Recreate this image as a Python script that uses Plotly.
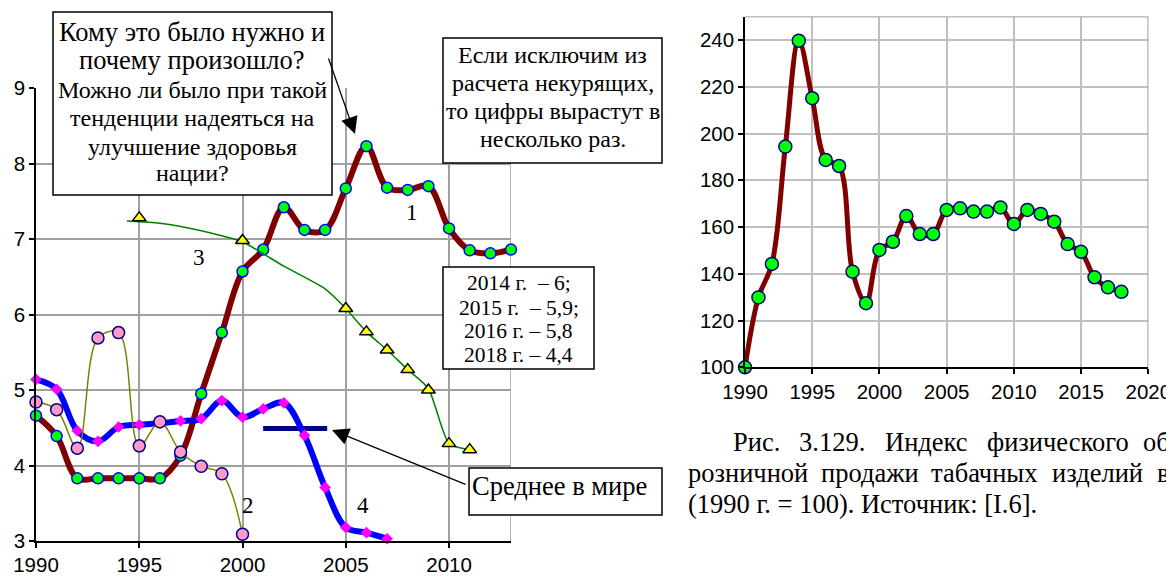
import plotly.graph_objects as go

# The page body has an 8px margin, so the figure is placed at (8, 8) in the window.
OFF = 8
W, H = 1174 - OFF, 577 - OFF

# ---------------- data: left chart ----------------
years_s1 = list(range(1990, 2014))
s1 = [4.66, 4.39, 3.83, 3.83, 3.83, 3.83, 3.83, 4.13, 4.95, 5.76, 6.57, 6.86,
      7.42, 7.12, 7.12, 7.67, 8.23, 7.68, 7.65, 7.70, 7.14, 6.85, 6.81, 6.86]
years_s2 = list(range(1990, 2001))
s2 = [4.84, 4.74, 4.23, 5.69, 5.76, 4.26, 4.58, 4.18, 3.99, 3.89, 3.09]
years_s3 = [1995, 2000, 2005, 2006, 2007, 2008, 2009, 2010, 2011]
s3 = [7.28, 6.98, 6.08, 5.77, 5.53, 5.27, 5.00, 4.29, 4.21]
years_s3_line = [1994.4, 1996, 1998, 2000, 2002, 2004, 2005, 2006, 2007, 2008, 2009, 2010, 2011]
s3_line = [7.24, 7.21, 7.11, 6.96, 6.64, 6.34, 6.08, 5.77, 5.53, 5.27, 5.02, 4.29, 4.21]
years_s4 = list(range(1990, 2008))
s4 = [5.14, 5.01, 4.46, 4.32, 4.51, 4.54, 4.56, 4.59, 4.62, 4.86, 4.64, 4.75,
      4.83, 4.40, 3.71, 3.18, 3.11, 3.03]
world_avg_years = [2001, 2004.1]
world_avg = [4.49, 4.49]
left_xticks = [1990, 1995, 2000, 2005, 2010]
left_yticks = [3, 4, 5, 6, 7, 8, 9]

# ---------------- data: right chart ----------------
years_r = list(range(1990, 2019))
idx_r = [100, 129.9, 144.2, 194.4, 239.7, 215.1, 188.7, 186.1, 140.9, 127.4,
         150.2, 153.7, 164.7, 157.0, 157.0, 167.3, 168.0, 166.6, 166.6, 168.4,
         161.3, 167.3, 165.6, 162.3, 152.7, 149.4, 138.5, 134.2, 132.3]
right_xticks = [1990, 1995, 2000, 2005, 2010, 2015, 2020]
right_yticks = [100, 120, 140, 160, 180, 200, 220, 240]

# ---------------- text ----------------
boxA_lines = ["Кому это было нужно и", "почему произошло?", "Можно ли было при такой",
              "тенденции надеяться на", "улучшение здоровья", "нации?"]
boxB_lines = ["Если исключим из", "расчета некурящих,", "то цифры вырастут в", "несколько раз."]
boxC_lines = ["2014 г.\u00a0\u00a0– 6;", "2015 г.\u00a0\u00a0– 5,9;", "2016 г. – 5,8", "2018 г. – 4,4"]
boxD_text = "Среднее в мире"
series_labels = ["1", "2", "3", "4"]
caption_lines = [
    ["Рис.", "3.129.", "Индекс", "физического", "об"],
    ["розничной", "продажи", "табачных", "изделий", "в"],
    ["(1990 г. = 100). Источник: [I.6]."],
]

SERIF = "Liberation Serif"
SANS = "Liberation Sans"


def px(x):
    return (x - OFF) / W


def py(y):
    return 1 - (y - OFF) / H


fig = go.Figure()

# left chart traces
fig.add_trace(go.Scatter(x=years_s1, y=s1, mode="lines+markers", xaxis="x", yaxis="y",
                         line=dict(color="#800000", width=6, shape="spline", smoothing=1),
                         marker=dict(symbol="circle", size=11, color="#00FF00",
                                     line=dict(color="#0000FF", width=1.5)),
                         cliponaxis=False))
fig.add_trace(go.Scatter(x=world_avg_years, y=world_avg, mode="lines", xaxis="x", yaxis="y",
                         line=dict(color="#000080", width=5), cliponaxis=False))
fig.add_trace(go.Scatter(x=years_s4, y=s4, mode="lines+markers", xaxis="x", yaxis="y",
                         line=dict(color="#0000FF", width=6, shape="spline", smoothing=1),
                         marker=dict(symbol="diamond", size=9, color="#FF00FF",
                                     line=dict(color="#FF00FF", width=0)),
                         cliponaxis=False))
fig.add_trace(go.Scatter(x=years_s2, y=s2, mode="lines+markers", xaxis="x", yaxis="y",
                         line=dict(color="#808000", width=1.5, shape="spline", smoothing=1),
                         marker=dict(symbol="circle", size=12, color="#FF99CC",
                                     line=dict(color="#000080", width=1.5)),
                         cliponaxis=False))
fig.add_trace(go.Scatter(x=years_s3_line, y=s3_line, mode="lines", xaxis="x", yaxis="y",
                         line=dict(color="#008000", width=1.5, shape="spline", smoothing=0.6),
                         cliponaxis=False))
fig.add_trace(go.Scatter(x=years_s3, y=s3, mode="markers", xaxis="x", yaxis="y",
                         marker=dict(symbol="triangle-up", size=12, color="#FFFF00",
                                     line=dict(color="#000000", width=1.5)),
                         cliponaxis=False))

# right chart trace
fig.add_trace(go.Scatter(x=years_r, y=idx_r, mode="lines+markers", xaxis="x2", yaxis="y2",
                         line=dict(color="#800000", width=5, shape="spline", smoothing=1),
                         marker=dict(symbol="circle", size=13, color="#00FF00",
                                     line=dict(color="#000080", width=1.5)),
                         cliponaxis=False))

shapes = []
shapes.append(dict(type="line", xref="x", yref="y", x0=2013, x1=2013, y0=3, y1=9,
                   line=dict(color="#A0A0A0", width=1.5), layer="between"))
shapes.append(dict(type="line", xref="x2", yref="y2", x0=1990, x1=2020, y0=250, y1=250,
                   line=dict(color="#808080", width=1.5), layer="between"))
shapes.append(dict(type="line", xref="x2", yref="y2", x0=2020, x1=2020, y0=100, y1=250,
                   line=dict(color="#808080", width=1.5), layer="between"))


def box(x0, y0, x1, y1):
    shapes.append(dict(type="rect", xref="paper", yref="paper",
                       x0=px(x0), x1=px(x1), y0=py(y1), y1=py(y0),
                       fillcolor="white", line=dict(color="black", width=1.5), layer="above"))


box(53, 12, 332, 195)
box(443, 38, 662, 163)
box(443, 267, 594, 369)
box(469, 468, 662, 515)

ann = []


def text(x, y, s, size, anchor="center"):
    ann.append(dict(x=px(x), y=py(y), xref="paper", yref="paper", text=s, showarrow=False,
                    xanchor=anchor, yanchor="middle",
                    font=dict(family=SERIF, size=size, color="black")))


for s, y, sz in zip(boxA_lines, [32, 60, 90, 118, 147, 173], [26.5, 26.5, 24, 24, 24, 24]):
    text(192, y, s, sz)
for s, y in zip(boxB_lines, [55, 83, 111, 139]):
    text(552.5, y, s, 24)
for s, y in zip(boxC_lines, [283, 308, 331, 355]):
    text(518.5, y, s, 21.5)
text(559, 486, boxD_text, 26.5)
for s, (x, y) in zip(series_labels, [(412, 213), (248, 505), (199, 257), (363, 505)]):
    text(x, y, s, 23)

cap_x = [[731, 797, 883, 985, 1141], [686, 819, 929, 1050, 1155], [686]]
for words, xs, y in zip(caption_lines, cap_x, [442, 473, 504]):
    for w_, x in zip(words, xs):
        text(x, y, w_, 26.5, anchor="left")

# arrows
for (hx, hy), (tx, ty) in [((355, 134), (328, 57)), ((332, 430), (467, 485))]:
    ann.append(dict(x=px(hx), y=py(hy), xref="paper", yref="paper", text="",
                    showarrow=True, ax=tx - hx, ay=ty - hy, axref="pixel", ayref="pixel",
                    arrowhead=2, arrowsize=2.6, arrowwidth=1.3, arrowcolor="black", standoff=0))

axis_common = dict(showgrid=True, gridwidth=1.5, zeroline=False,
                   showline=True, linecolor="black", linewidth=1.5,
                   ticks="outside", ticklen=5, tickcolor="black", tickwidth=1.5,
                   tickfont=dict(family=SANS, size=20.5, color="black"), automargin=False)

fig.update_layout(
    width=W, height=H, margin=dict(l=0, r=0, t=0, b=0, autoexpand=False),
    paper_bgcolor="white", plot_bgcolor="white", showlegend=False,
    shapes=shapes, annotations=ann,
    xaxis=dict(domain=[px(36), px(511)], range=[1990, 2013], tickvals=left_xticks,
               gridcolor="#A0A0A0", anchor="y", **axis_common),
    yaxis=dict(domain=[py(541), py(88)], range=[3, 9], tickvals=left_yticks,
               gridcolor="#A0A0A0", anchor="x", **axis_common),
    xaxis2=dict(domain=[px(745), px(1148.3)], range=[1990, 2020], tickvals=right_xticks,
                gridcolor="#C0C0C0", anchor="y2", **axis_common),
    yaxis2=dict(domain=[py(367.3), py(16.6)], range=[100, 250], tickvals=right_yticks,
                gridcolor="#C0C0C0", anchor="x2", **axis_common),
)

fig.write_html("out.html")
